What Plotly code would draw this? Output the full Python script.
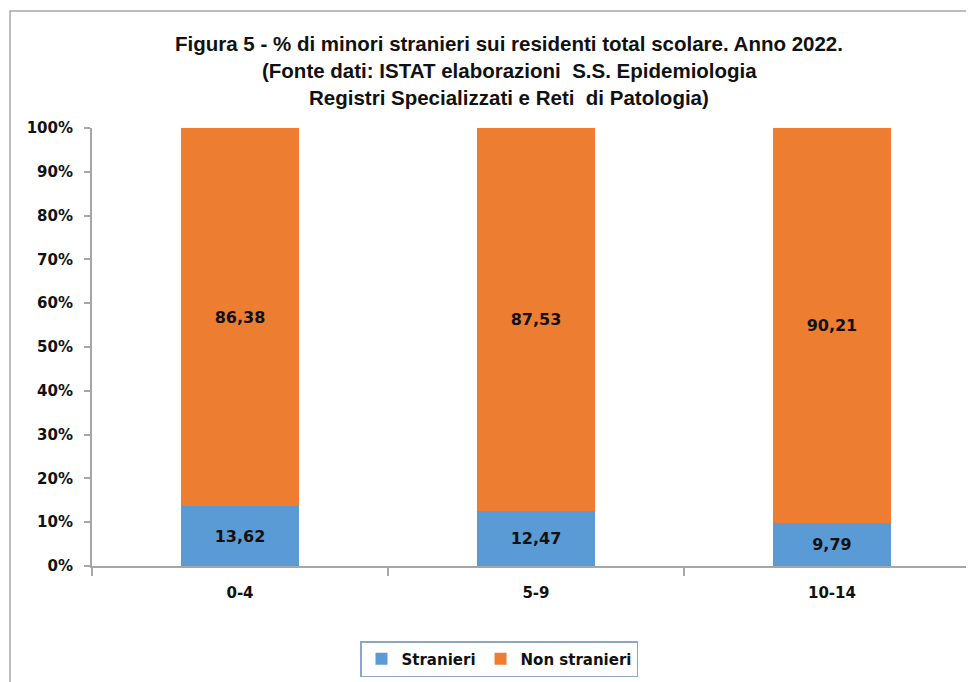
import plotly.graph_objects as go

categories = ["0-4", "5-9", "10-14"]
stranieri = [13.62, 12.47, 9.79]
non_stranieri = [86.38, 87.53, 90.21]
y_tick_vals = [0, 10, 20, 30, 40, 50, 60, 70, 80, 90, 100]
y_tick_text = ["0%", "10%", "20%", "30%", "40%", "50%", "60%", "70%", "80%", "90%", "100%"]
title_lines = [
    "Figura 5 - % di minori stranieri sui residenti total scolare. Anno 2022.",
    "(Fonte dati: ISTAT elaborazioni  S.S. Epidemiologia",
    "Registri Specializzati e Reti  di Patologia)",
]

BLUE = "#5B9BD5"
ORANGE = "#ED7D31"
TXT = "#111111"
LBL_FONT = "DejaVu Sans"
TITLE_FONT = "Liberation Sans, Arial, sans-serif"

fig = go.Figure()
fig.add_trace(go.Bar(
    x=categories, y=stranieri, name="Stranieri", marker=dict(color=BLUE, line=dict(width=0)),
    width=0.4, texttemplate="%{y:.2f}", textposition="inside", insidetextanchor="middle",
    textfont=dict(family=LBL_FONT, size=16, color=TXT, weight="bold"), textangle=0,
))
fig.add_trace(go.Bar(
    x=categories, y=non_stranieri, name="Non stranieri", marker=dict(color=ORANGE, line=dict(width=0)),
    width=0.4, texttemplate="%{y:.2f}", textposition="inside", insidetextanchor="middle",
    textfont=dict(family=LBL_FONT, size=16, color=TXT, weight="bold"), textangle=0,
))

# page body adds an 8px offset; target pixel positions are corrected for it
OFF = 8
W, H = 974, 682
L = 92 - OFF
T = 128 - OFF
plot_right = 974 - OFF
plot_bottom = 566 - OFF
R = W - plot_right
B = H - plot_bottom
pw, ph = W - L - R, H - T - B

def px_x(p):
    return (p - OFF - L) / pw

def px_y(p):
    return (H - B - (p - OFF)) / ph

annotations = []
title_y = [43, 71, 98]
for line, yy in zip(title_lines, title_y):
    annotations.append(dict(
        text="<b>" + line + "</b>", xref="paper", yref="paper",
        x=px_x(509), y=px_y(yy), xanchor="center", yanchor="middle", showarrow=False,
        font=dict(family=TITLE_FONT, size=20.5, color=TXT),
    ))

fig.update_layout(
    width=W, height=H,
    margin=dict(l=L, r=R, t=T, b=B, autoexpand=False),
    paper_bgcolor="white", plot_bgcolor="white",
    barmode="stack",
    separators=",.",
    showlegend=True,
    legend=dict(
        orientation="h", x=px_x(499), y=px_y(659), xanchor="center", yanchor="middle",
        bordercolor="#8EA6C4", borderwidth=1.5, bgcolor="white",
        font=dict(family=LBL_FONT, size=15, color=TXT, weight="bold"),
        traceorder="normal", itemwidth=30,
    ),
    annotations=annotations,
    shapes=[dict(
        type="rect", xref="paper", yref="paper",
        x0=px_x(10), x1=px_x(1000), y0=px_y(700), y1=px_y(11),
        line=dict(color="#A6A6A6", width=1.5), fillcolor="rgba(0,0,0,0)", layer="below",
    )],
    xaxis=dict(
        type="category", range=[-0.5, 2.48], automargin=False,
        showline=True, linecolor="#A6A6A6", linewidth=2,
        ticks="outside", tickson="boundaries", ticklen=8, tickcolor="#A6A6A6", tickwidth=2,
        tickfont=dict(family=LBL_FONT, size=15, color=TXT, weight="bold"),
        ticklabelstandoff=12, showgrid=False, zeroline=False,
    ),
    yaxis=dict(
        range=[0, 100], tickvals=y_tick_vals, ticktext=y_tick_text, automargin=False,
        showline=True, linecolor="#A6A6A6", linewidth=2,
        ticks="outside", ticklen=6, tickcolor="#A6A6A6", tickwidth=2,
        tickfont=dict(family=LBL_FONT, size=15, color=TXT, weight="bold"),
        ticklabelstandoff=8, showgrid=False, zeroline=False,
    ),
)

fig.write_html("out.html")
